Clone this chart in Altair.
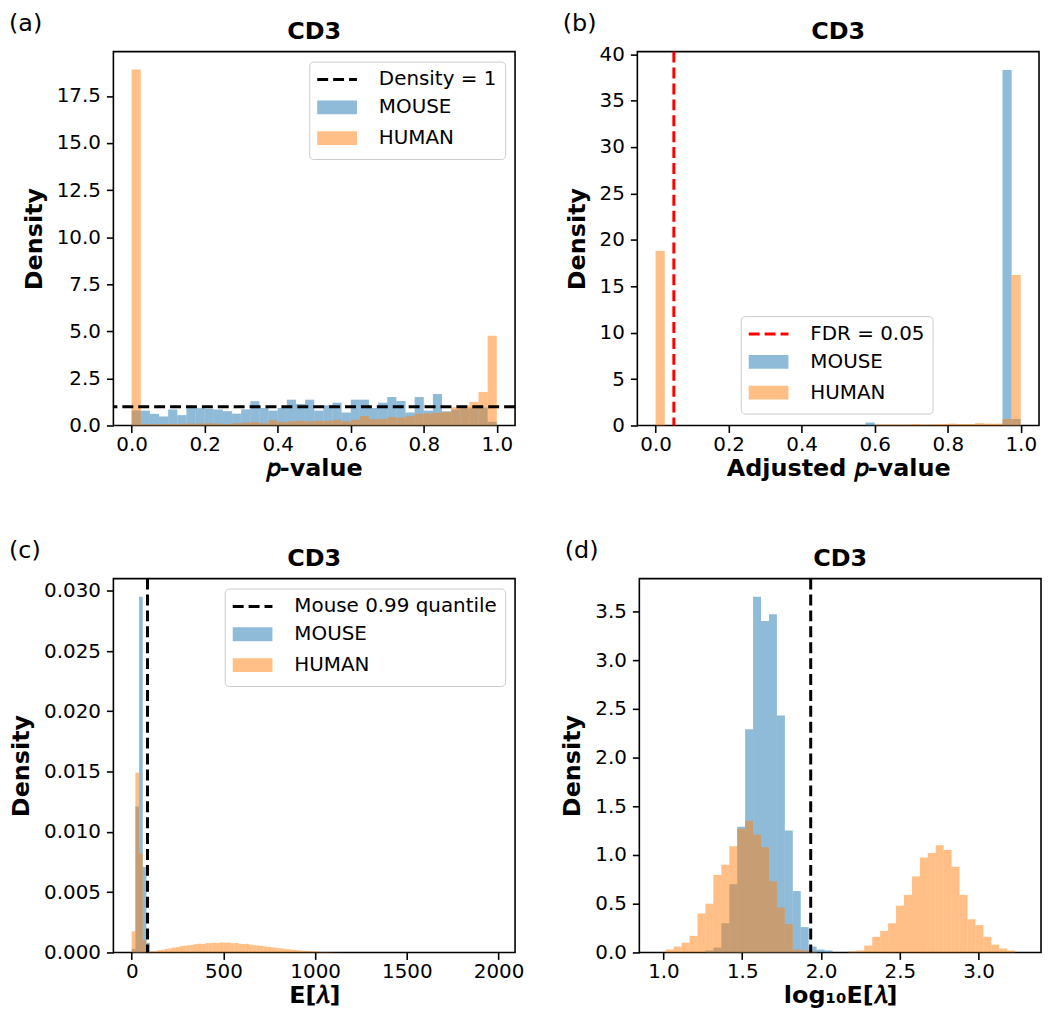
import math
import pandas as pd
import altair as alt

FONT = "DejaVu Sans"
BLUE, ORANGE = "#1f77b4", "#ff7f0e"
BLUE_L, ORANGE_L = "#8fbbd9", "#ffbf86"
SERIES = ["MOUSE", "HUMAN"]
PANEL_TITLE = "CD3"

# ---------------- (a) p-value histograms (40 bins of 0.025) ----------------
A_BIN_START, A_BIN_WIDTH = 0.0, 0.025
A_MOUSE = [0.80, 0.79, 0.62, 0.48, 0.85, 0.55, 0.92, 0.92, 0.88, 0.85,
           0.76, 0.63, 0.86, 1.29, 0.93, 0.79, 0.93, 1.37, 1.14, 1.37,
           0.79, 1.07, 1.21, 0.69, 1.37, 1.37, 0.93, 1.21, 1.51, 1.30,
           0.69, 1.51, 0.79, 1.67, 0.75, 0.85, 0.90, 0.95, 0.95, 0.20]
A_HUMAN = [18.9, 0.08, 0.07, 0.08, 0.08, 0.09, 0.10, 0.10, 0.12, 0.10,
           0.08, 0.12, 0.15, 0.18, 0.12, 0.28, 0.18, 0.22, 0.25, 0.22,
           0.25, 0.25, 0.30, 0.22, 0.30, 0.50, 0.33, 0.35, 0.45, 0.42,
           0.50, 0.62, 0.65, 0.68, 0.72, 0.97, 1.06, 1.25, 1.78, 4.77]
A_REF = 1.0

# ---------------- (b) adjusted p-value histograms ----------------
B_BIN_START, B_BIN_WIDTH = 0.0, 0.025
B_MOUSE = [0, 0, 0, 0, 0, 0, 0, 0, 0, 0,
           0, 0, 0, 0, 0, 0, 0, 0, 0, 0,
           0, 0, 0, 0.32, 0, 0, 0, 0, 0, 0,
           0, 0, 0, 0, 0, 0, 0, 0, 38.3, 0.7]
B_HUMAN = [18.8, 0, 0, 0, 0, 0, 0, 0, 0, 0,
           0, 0, 0, 0, 0, 0, 0, 0, 0, 0,
           0, 0, 0, 0, 0.10, 0.10, 0.08, 0.10, 0.15, 0.10,
           0.12, 0.15, 0.20, 0.15, 0.15, 0.25, 0.20, 0.20, 0.70, 16.2]
B_FDR = 0.05

# ---------------- (c) E[lambda] histograms (bins of 20) ----------------
C_BIN_START, C_BIN_WIDTH = 0.0, 20.0
C_MOUSE = [0.0003, 0.0121, 0.0295, 0.0071, 0.0008]
C_HUMAN = [0.00176, 0.0149, 0.0082, 0.0010, 0.0002,
           0.00006, 0.00010, 0.00018, 0.00022, 0.00029, 0.00033, 0.00041, 0.00044, 0.00052, 0.00056,
           0.00060, 0.00063, 0.00069, 0.00072, 0.00070, 0.00076, 0.00079, 0.00081, 0.00077, 0.00083,
           0.00080, 0.00082, 0.00076, 0.00078, 0.00072, 0.00069, 0.00071, 0.00064, 0.00060, 0.00057,
           0.00054, 0.00049, 0.00046, 0.00042, 0.00038, 0.00034, 0.00031, 0.00027, 0.00025, 0.00021,
           0.00018, 0.00015, 0.00013, 0.00011, 0.00009, 0.00007, 0.00005, 0.00004, 0.00003, 0.00002,
           0.000015, 0.00001, 0.000005]
C_QUANT = 86.0

# ---------------- (d) log10 E[lambda] histograms ----------------
D_BIN_START, D_BIN_WIDTH = 1.0145, 0.0504
D_MOUSE = [0, 0, 0, 0, 0, 0.02, 0.05, 0.30, 0.70, 1.29,
           2.29, 3.65, 3.40, 3.47, 2.43, 1.25, 0.63, 0.26, 0.06, 0.03, 0.02]
D_HUMAN = [0.03, 0.06, 0.10, 0.17, 0.40, 0.50, 0.795, 0.90, 1.09, 1.27,
           1.35, 1.21, 1.08, 0.73, 0.46, 0.29, 0.03, 0.02, 0.01, 0.0,
           0.0, 0.0, 0.0, 0.01, 0.02, 0.07, 0.16, 0.22, 0.30, 0.48,
           0.59, 0.78, 0.975, 1.02, 1.10, 1.05, 0.88, 0.59, 0.34, 0.28,
           0.16, 0.08, 0.04, 0.02]
D_QUANT = math.log10(C_QUANT)

# legend glyphs (custom symbol paths, scaled by sqrt(symbolSize)/2 = 8.5 px)
LINE_PATH = "M-2.35,0H2.35"
RECT_PATH = "M-2.35,-0.82H2.35V0.82H-2.35Z"
W, H = 404, 376


def hist_df(start, width, vals):
    return pd.DataFrame({
        "x0": [start + i * width for i in range(len(vals))],
        "x1": [start + (i + 1) * width for i in range(len(vals))],
        "y": vals,
    })


def panel(tag, tag_x, start, width, mouse, human, xdom, ydom, xvals, yvals,
          xfmt, yfmt, xtitle, ref_value, ref_orient, ref_label, ref_color, legend):
    xs = alt.Scale(domain=xdom, nice=False, zero=False)
    ys = alt.Scale(domain=ydom, nice=False, zero=False)
    xax = alt.Axis(values=xvals, format=xfmt, title=xtitle)
    yax = alt.Axis(values=yvals, format=yfmt, title="Density")

    def bars(vals, color):
        return alt.Chart(hist_df(start, width, vals)).mark_rect(
            color=color, opacity=0.5, strokeWidth=0
        ).encode(
            x=alt.X("x0:Q", scale=xs, axis=xax),
            x2="x1:Q",
            y=alt.Y("y:Q", scale=ys, axis=yax),
            y2=alt.datum(0),
        )

    ref_df = pd.DataFrame({"v": [ref_value]})
    rule = alt.Chart(ref_df).mark_rule(
        color=ref_color, strokeWidth=3, strokeDash=[11, 5]
    )
    if ref_orient == "h":
        rule = rule.encode(y=alt.Y("v:Q", scale=ys, axis=yax))
    else:
        rule = rule.encode(x=alt.X("v:Q", scale=xs, axis=xax))

    ser = [ref_label] + SERIES
    leg_df = pd.DataFrame({"series": ser})
    leg_layer = alt.Chart(leg_df).mark_point(filled=True).transform_filter("false").encode(
        shape=alt.Shape("series:N", scale=alt.Scale(domain=ser, range=[LINE_PATH, RECT_PATH, RECT_PATH]), legend=legend),
        fill=alt.Fill("series:N", scale=alt.Scale(domain=ser, range=["transparent", BLUE_L, ORANGE_L]), legend=legend),
        stroke=alt.Stroke("series:N", scale=alt.Scale(domain=ser, range=[ref_color, "transparent", "transparent"]), legend=legend),
        strokeDash=alt.StrokeDash("series:N", scale=alt.Scale(domain=ser, range=[[11, 5], [1, 0], [1, 0]]), legend=legend),
    )

    tag_layer = alt.Chart(pd.DataFrame({"t": [tag]})).mark_text(
        align="left", baseline="alphabetic", fontSize=24, font=FONT, color="black"
    ).encode(text="t:N", x=alt.value(tag_x), y=alt.value(-21))

    title_layer = alt.Chart(pd.DataFrame({"t": [PANEL_TITLE]})).mark_text(
        align="center", baseline="alphabetic", fontSize=24, fontWeight="bold", font=FONT, color="black"
    ).encode(text="t:N", x=alt.value(W / 2), y=alt.value(-13))

    return alt.layer(
        bars(mouse, BLUE), bars(human, ORANGE), rule, leg_layer, tag_layer, title_layer
    ).resolve_scale(shape="independent", fill="independent", stroke="independent", strokeDash="independent").properties(
        width=W, height=H,
    )


def leg(**kw):
    base = dict(title=None, symbolSize=289, symbolStrokeWidth=3, labelFontSize=20,
                labelFont=FONT, labelColor="black", symbolOffset=10, labelOffset=32, padding=8,
                rowPadding=5, cornerRadius=4, strokeColor="#cccccc",
                fillColor="rgba(255,255,255,0.85)", labelLimit=400, symbolOpacity=1)
    base.update(kw)
    return alt.Legend(**base)


pa = panel("(a)", -105, A_BIN_START, A_BIN_WIDTH, A_MOUSE, A_HUMAN,
           [-0.05, 1.05], [0, 19.85], [0, 0.2, 0.4, 0.6, 0.8, 1.0],
           [0, 2.5, 5, 7.5, 10, 12.5, 15, 17.5], ".1f", ".1f", "𝑝-value",
           A_REF, "h", "Density = 1", "black", leg(orient="top-right", offset=10))
pb = panel("(b)", -75, B_BIN_START, B_BIN_WIDTH, B_MOUSE, B_HUMAN,
           [-0.05, 1.05], [0, 40.27], [0, 0.2, 0.4, 0.6, 0.8, 1.0],
           [0, 5, 10, 15, 20, 25, 30, 35, 40], ".1f", "d", "Adjusted 𝑝-value",
           B_FDR, "v", "FDR = 0.05", "#ff0000", leg(orient="none", legendX=104, legendY=266))
pc = panel("(c)", -105, C_BIN_START, C_BIN_WIDTH, C_MOUSE, C_HUMAN,
           [-100, 2090], [0, 0.03101], [0, 500, 1000, 1500, 2000],
           [0, 0.005, 0.01, 0.015, 0.02, 0.025, 0.03], "d", ".3f", "E[𝜆]",
           C_QUANT, "v", "Mouse 0.99 quantile", "black", leg(orient="top-right", offset=10))
pd_ = panel("(d)", -75, D_BIN_START, D_BIN_WIDTH, D_MOUSE, D_HUMAN,
            [0.847, 3.396], [0, 3.836], [1.0, 1.5, 2.0, 2.5, 3.0],
            [0, 0.5, 1.0, 1.5, 2.0, 2.5, 3.0, 3.5], ".1f", ".1f", "log₁₀E[𝜆]",
            D_QUANT, "v", "Mouse 0.99 quantile", "black", None)

chart = alt.vconcat(
    alt.hconcat(pa, pb, spacing=44),
    alt.hconcat(pc, pd_, spacing=35),
    spacing=57,
).properties(padding=0).configure(font=FONT).configure_view(
    stroke="black", strokeWidth=1.6
).configure_axis(
    domain=False, grid=False, ticks=True, tickSize=7, tickWidth=1.6, tickColor="black",
    labelFontSize=20, labelFont=FONT, labelColor="black", labelFlush=False,
    titleFontSize=24, titleFont=FONT, titleFontWeight="bold", titleColor="black",
).configure_axisX(labelPadding=2, titlePadding=2).configure_axisY(labelPadding=6, titlePadding=10)

chart.save("out.html", embed_options={"renderer": "svg", "actions": False})
